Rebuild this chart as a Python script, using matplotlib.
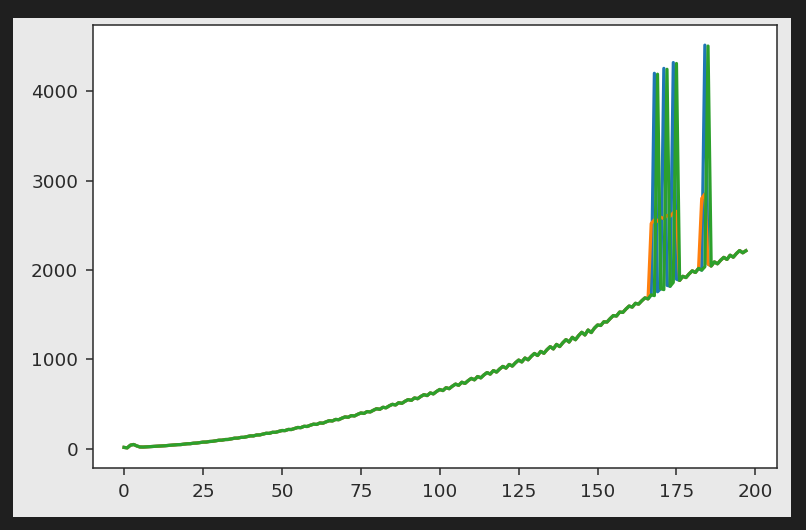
import numpy as np
import matplotlib
matplotlib.use('Agg')
from matplotlib import pyplot as plt
from matplotlib.patches import Rectangle

# shared curve (one value per index)
base = [15, 10, 40, 48, 32, 20, 19, 21, 22, 25,
        28, 29, 32, 34, 37, 40, 42, 46, 47, 52,
        56, 57, 62, 64, 69, 74, 75, 81, 83, 89,
        95, 96, 103, 104, 111, 118, 119, 127, 128, 136,
        144, 144, 154, 155, 164, 173, 172, 184, 184, 194,
        204, 203, 216, 215, 227, 238, 236, 251, 249, 263,
        275, 272, 288, 286, 301, 314, 311, 328, 325, 342,
        356, 352, 371, 367, 385, 400, 395, 416, 412, 431,
        448, 441, 464, 458, 480, 497, 490, 515, 508, 531,
        550, 541, 568, 560, 585, 605, 595, 624, 614, 641,
        663, 651, 683, 672, 700, 723, 710, 744, 731, 762,
        787, 771, 808, 793, 826, 852, 835, 874, 858, 893,
        921, 902, 943, 925, 962, 992, 971, 1015, 995, 1034,
        1066, 1043, 1089, 1068, 1109, 1142, 1117, 1167, 1143, 1186,
        1221, 1194, 1246, 1220, 1266, 1303, 1273, 1328, 1300, 1349,
        1384, 1379, 1420, 1418, 1456, 1490, 1485, 1529, 1525, 1563,
        1596, 1585, 1627, 1618, 1655, 1687, 1677, 1722, 1713, 1756,
        1791, 1780, 1828, 1818, 1861, 1897, 1883, 1929, 1915, 1956,
        1990, 1972, 2018, 1998, 2036, 2067, 2044, 2090, 2069, 2109,
        2141, 2118, 2165, 2143, 2184, 2217, 2192, 2215]

# outliers where the series leave the curve
blue_spikes = {168: 4200, 171: 4255, 174: 4320, 184: 4515}
green_spikes = {169: 4190, 172: 4245, 175: 4310, 185: 4505}
orange_jumps = {167: 2520, 168: 2560, 169: 2545, 170: 2590, 171: 2575,
                172: 2610, 173: 2600, 174: 2640, 175: 2655,
                183: 2800, 184: 2850}

blue = list(base)
for k, v in blue_spikes.items():
    blue[k] = v
orange = list(base)
for k, v in orange_jumps.items():
    orange[k] = v
green = list(base)
for k, v in green_spikes.items():
    green[k] = v

x = np.arange(len(base))

W, H = 806, 530
fig = plt.figure(figsize=(W / 100, H / 100), dpi=100, facecolor='#1f1f1f')
# light panel of the notebook output
fig.patches.append(Rectangle((13 / W, 1 - 517 / H), (791 - 13) / W, (517 - 18) / H,
                             transform=fig.transFigure, facecolor='#e9e9e9',
                             edgecolor='none', zorder=-10))

ax = fig.add_axes([93 / W, 1 - 468 / H, (777 - 93) / W, (468 - 25) / H])
ax.set_zorder(5)
ax.set_facecolor('white')

lw = 2.3
ax.plot(x, blue, color='#1f77b4', lw=lw)
ax.plot(x, orange, color='#ff7f0e', lw=lw)
ax.plot(x, green, color='#2ca02c', lw=lw)

ax.set_xticks([0, 25, 50, 75, 100, 125, 150, 175, 200])
ax.set_yticks([0, 1000, 2000, 3000, 4000])
ax.tick_params(labelsize=13.3, length=4.7, width=1.1, pad=6,
               colors='#2a2a2a', labelcolor='#2a2a2a')
for s in ax.spines.values():
    s.set_linewidth(1.1)
    s.set_color('#2a2a2a')

fig.savefig('out.png', dpi=100, facecolor=fig.get_facecolor())
